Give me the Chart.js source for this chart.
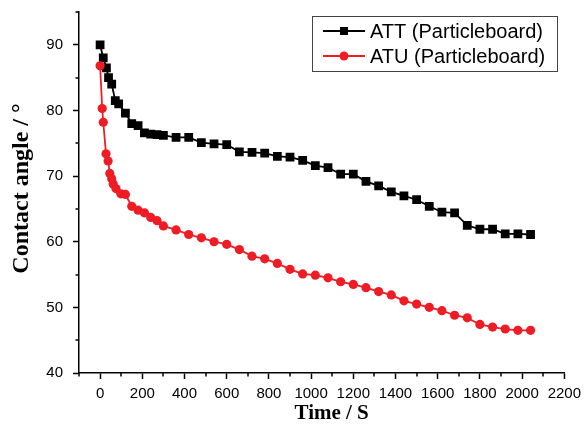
<!DOCTYPE html>
<html><head><meta charset="utf-8">
<script src="https://cdn.jsdelivr.net/npm/chart.js@4/dist/chart.umd.min.js"></script>
<style>html,body{margin:0;padding:0;background:#fff;}#wrap{width:587px;height:432px;position:relative;}</style>
</head><body><div id="wrap"><canvas id="c" width="587" height="432"></canvas></div>
<script>
const seriesLabels = ['ATT (Particleboard)', 'ATU (Particleboard)'];
const xTitle = 'Time / S';
const yTitle = 'Contact angle / \u00B0';
const attTime = [0,15,30,40,55,72,88,120,150,180,210,240,270,300,360,420,480,540,600,660,720,780,840,900,960,1020,1080,1140,1200,1260,1320,1380,1440,1500,1560,1620,1680,1740,1800,1860,1920,1980,2040];
const attAngle = [90.0,88.0,86.5,85.0,84.0,81.5,81.0,79.6,78.0,77.7,76.6,76.4,76.3,76.2,75.9,75.9,75.1,74.9,74.8,73.7,73.6,73.5,73.0,72.9,72.4,71.6,71.3,70.3,70.3,69.2,68.5,67.6,67.0,66.4,65.4,64.5,64.4,62.5,61.9,61.9,61.2,61.2,61.1];
const atuTime = [0,10,15,28,38,46,55,62,75,98,120,150,180,210,240,270,300,360,420,480,540,600,660,720,780,840,900,960,1020,1080,1140,1200,1260,1320,1380,1440,1500,1560,1620,1680,1740,1800,1860,1920,1980,2040];
const atuAngle = [86.8,80.3,78.2,73.4,72.3,70.4,69.6,68.8,68.1,67.3,67.2,65.4,64.8,64.4,63.7,63.2,62.4,61.8,61.1,60.6,60.0,59.6,58.8,57.8,57.4,56.7,55.8,55.1,54.9,54.5,53.9,53.5,53.0,52.4,51.9,51.0,50.5,50.0,49.5,48.8,48.4,47.4,47.0,46.7,46.5,46.5];
const xTicks = [0,200,400,600,800,1000,1200,1400,1600,1800,2000,2200];
const xMinor = [-100,100,300,500,700,900,1100,1300,1500,1700,1900,2100];
const yTicks = [40,50,60,70,80,90];
const yMinor = [45,55,65,75,85,95];

const BLACK = '#000000';
const RED = '#ee1c24';

const toPts = (xs, ys) => xs.map((x, i) => ({x: x, y: ys[i]}));

const extras = {
  id: 'extras',
  afterDraw(chart) {
    const ctx = chart.ctx;
    const xs = chart.scales.x, ys = chart.scales.y;
    const a = chart.chartArea;
    ctx.save();
    // minor ticks
    ctx.strokeStyle = '#000'; ctx.lineWidth = 1.5;
    ctx.beginPath();
    xMinor.forEach(v => { const p = Math.round(xs.getPixelForValue(v)); ctx.moveTo(p, a.bottom); ctx.lineTo(p, a.bottom + 3.5); });
    yMinor.forEach(v => { const p = Math.round(ys.getPixelForValue(v)); ctx.moveTo(a.left, p); ctx.lineTo(a.left - 3.5, p); });
    ctx.stroke();
    // axis titles
    ctx.fillStyle = '#000';
    ctx.textAlign = 'center'; ctx.textBaseline = 'middle';
    ctx.font = 'bold 21px "Liberation Serif", "Times New Roman", serif';
    ctx.fillText(xTitle, (a.left + a.right) / 2 + 10, 414);
    ctx.save();
    ctx.translate(22, (a.top + a.bottom) / 2 - 4);
    ctx.rotate(-Math.PI / 2);
    ctx.font = 'bold 24px "Liberation Serif", "Times New Roman", serif';
    ctx.fillText(yTitle, 0, 0);
    ctx.restore();
    // legend box
    const bx = 312, by = 16, bw = 245, bh = 55;
    ctx.strokeStyle = '#444'; ctx.lineWidth = 1;
    ctx.strokeRect(bx + 0.5, by + 0.5, bw, bh);
    ctx.font = '20px "Liberation Sans", Arial, sans-serif';
    ctx.textAlign = 'left';
    chart.data.datasets.forEach((ds, i) => {
      const yy = by + 15 + i * 25;
      ctx.strokeStyle = ds.borderColor; ctx.lineWidth = 2;
      ctx.beginPath(); ctx.moveTo(323, yy); ctx.lineTo(365, yy); ctx.stroke();
      ctx.fillStyle = ds.borderColor;
      if (ds.pointStyle === 'rect') { ctx.fillRect(344 - 4, yy - 4, 8, 8); }
      else { ctx.beginPath(); ctx.arc(344, yy, 4.5, 0, Math.PI * 2); ctx.fill(); }
      ctx.fillStyle = '#000';
      ctx.fillText(ds.label, 370, yy + 1);
    });
    ctx.restore();
  }
};

new Chart(document.getElementById('c'), {
  type: 'line',
  data: {
    datasets: [
      { label: seriesLabels[0], data: toPts(attTime, attAngle), borderColor: BLACK, backgroundColor: BLACK,
        borderWidth: 1.8, pointStyle: 'rect', pointRadius: 6.2, pointBorderWidth: 0, order: 1, tension: 0 },
      { label: seriesLabels[1], data: toPts(atuTime, atuAngle), borderColor: RED, backgroundColor: RED,
        borderWidth: 1.8, pointStyle: 'circle', pointRadius: 4.6, pointBorderWidth: 0, order: 0, tension: 0 }
    ]
  },
  options: {
    responsive: false, animation: false, devicePixelRatio: 1,
    layout: { padding: { left: 0, right: 19, top: 12, bottom: 0 } },
    plugins: { legend: { display: false }, tooltip: { enabled: false } },
    scales: {
      x: {
        type: 'linear', min: -100, max: 2200,
        afterBuildTicks: s => { s.ticks = xTicks.map(v => ({value: v})); },
        afterFit: s => { s.height = 59; },
        grid: { drawOnChartArea: false, drawTicks: true, tickLength: 6, tickColor: '#000', tickWidth: 1.5 },
        border: { display: true, color: '#000', width: 1.5 },
        ticks: { color: '#000', autoSkip: false, maxRotation: 0, padding: 6, callback: v => String(v),
          font: { family: '"Liberation Sans", Arial, sans-serif', size: 15 } }
      },
      y: {
        type: 'linear', min: 40, max: 95,
        afterBuildTicks: s => { s.ticks = yTicks.map(v => ({value: v})); },
        afterFit: s => { s.width = 79; s.paddingTop = 0; s.paddingBottom = 0; },
        grid: { drawOnChartArea: false, drawTicks: true, tickLength: 6, tickColor: '#000', tickWidth: 1.5 },
        border: { display: true, color: '#000', width: 1.5 },
        ticks: { color: '#000', autoSkip: false, padding: 10, callback: v => String(v),
          font: { family: '"Liberation Sans", Arial, sans-serif', size: 15 } }
      }
    }
  },
  plugins: [extras]
});
</script></body></html>
